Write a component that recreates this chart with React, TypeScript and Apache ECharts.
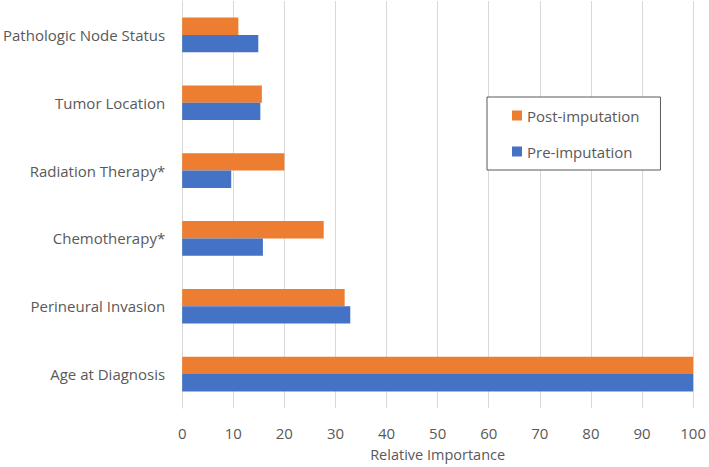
import React, { useEffect, useRef } from "react";
import * as echarts from "echarts";

const categories = [
  "Age at Diagnosis",
  "Perineural Invasion",
  "Chemotherapy*",
  "Radiation Therapy*",
  "Tumor Location",
  "Pathologic Node Status",
];
const preImputation = [100, 32.9, 15.8, 9.6, 15.3, 14.9];
const postImputation = [100, 31.8, 27.7, 20.0, 15.6, 11.0];
const xTicks = [0, 10, 20, 30, 40, 50, 60, 70, 80, 90, 100];

const FONT = "Open Sans";
const TEXT = "#595959";

export default function App() {
  const ref = useRef<HTMLDivElement>(null);
  useEffect(() => {
    if (!ref.current) return;
    const chart = echarts.init(ref.current, undefined, { renderer: "svg" });
    chart.setOption({
      animation: false,
      backgroundColor: "#ffffff",
      textStyle: { fontFamily: FONT },
      grid: { left: 180, right: 13, top: 1, bottom: 57, containLabel: false },
      legend: {
        orient: "vertical",
        left: 487,
        top: 97,
        data: ["Post-imputation", "Pre-imputation"],
        icon: "rect",
        itemWidth: 10,
        itemHeight: 10,
        itemGap: 21,
        padding: [11, 21, 11, 25],
        borderColor: "#595959",
        borderWidth: 1,
        backgroundColor: "#ffffff",
        textStyle: { color: TEXT, fontSize: 15, fontFamily: FONT },
      },
      xAxis: {
        type: "value",
        min: xTicks[0],
        max: xTicks[xTicks.length - 1],
        interval: 10,
        name: "Relative Importance",
        nameLocation: "middle",
        nameGap: 39,
        nameTextStyle: { color: TEXT, fontSize: 14.5, fontFamily: FONT },
        axisLine: { show: false },
        axisTick: { show: false },
        axisLabel: { color: TEXT, fontSize: 15, margin: 17, fontFamily: FONT },
        splitLine: { show: true, lineStyle: { color: "#d9d9d9", width: 1 } },
      },
      yAxis: {
        type: "category",
        data: categories,
        axisLine: { show: true, lineStyle: { color: "#d9d9d9" } },
        axisTick: { show: false },
        axisLabel: { color: TEXT, fontSize: 15, margin: 17, fontFamily: FONT },
      },
      series: [
        {
          name: "Post-imputation",
          type: "bar",
          data: postImputation,
          itemStyle: { color: "#ED7D31" },
          barGap: "0%",
          barCategoryGap: "49%",
        },
        {
          name: "Pre-imputation",
          type: "bar",
          data: preImputation,
          itemStyle: { color: "#4472C4" },
          barGap: "0%",
          barCategoryGap: "49%",
        },
      ],
    });
    return () => chart.dispose();
  }, []);
  return <div ref={ref} style={{ width: 709, height: 467, position: "absolute", left: 0, top: 0 }} />;
}
